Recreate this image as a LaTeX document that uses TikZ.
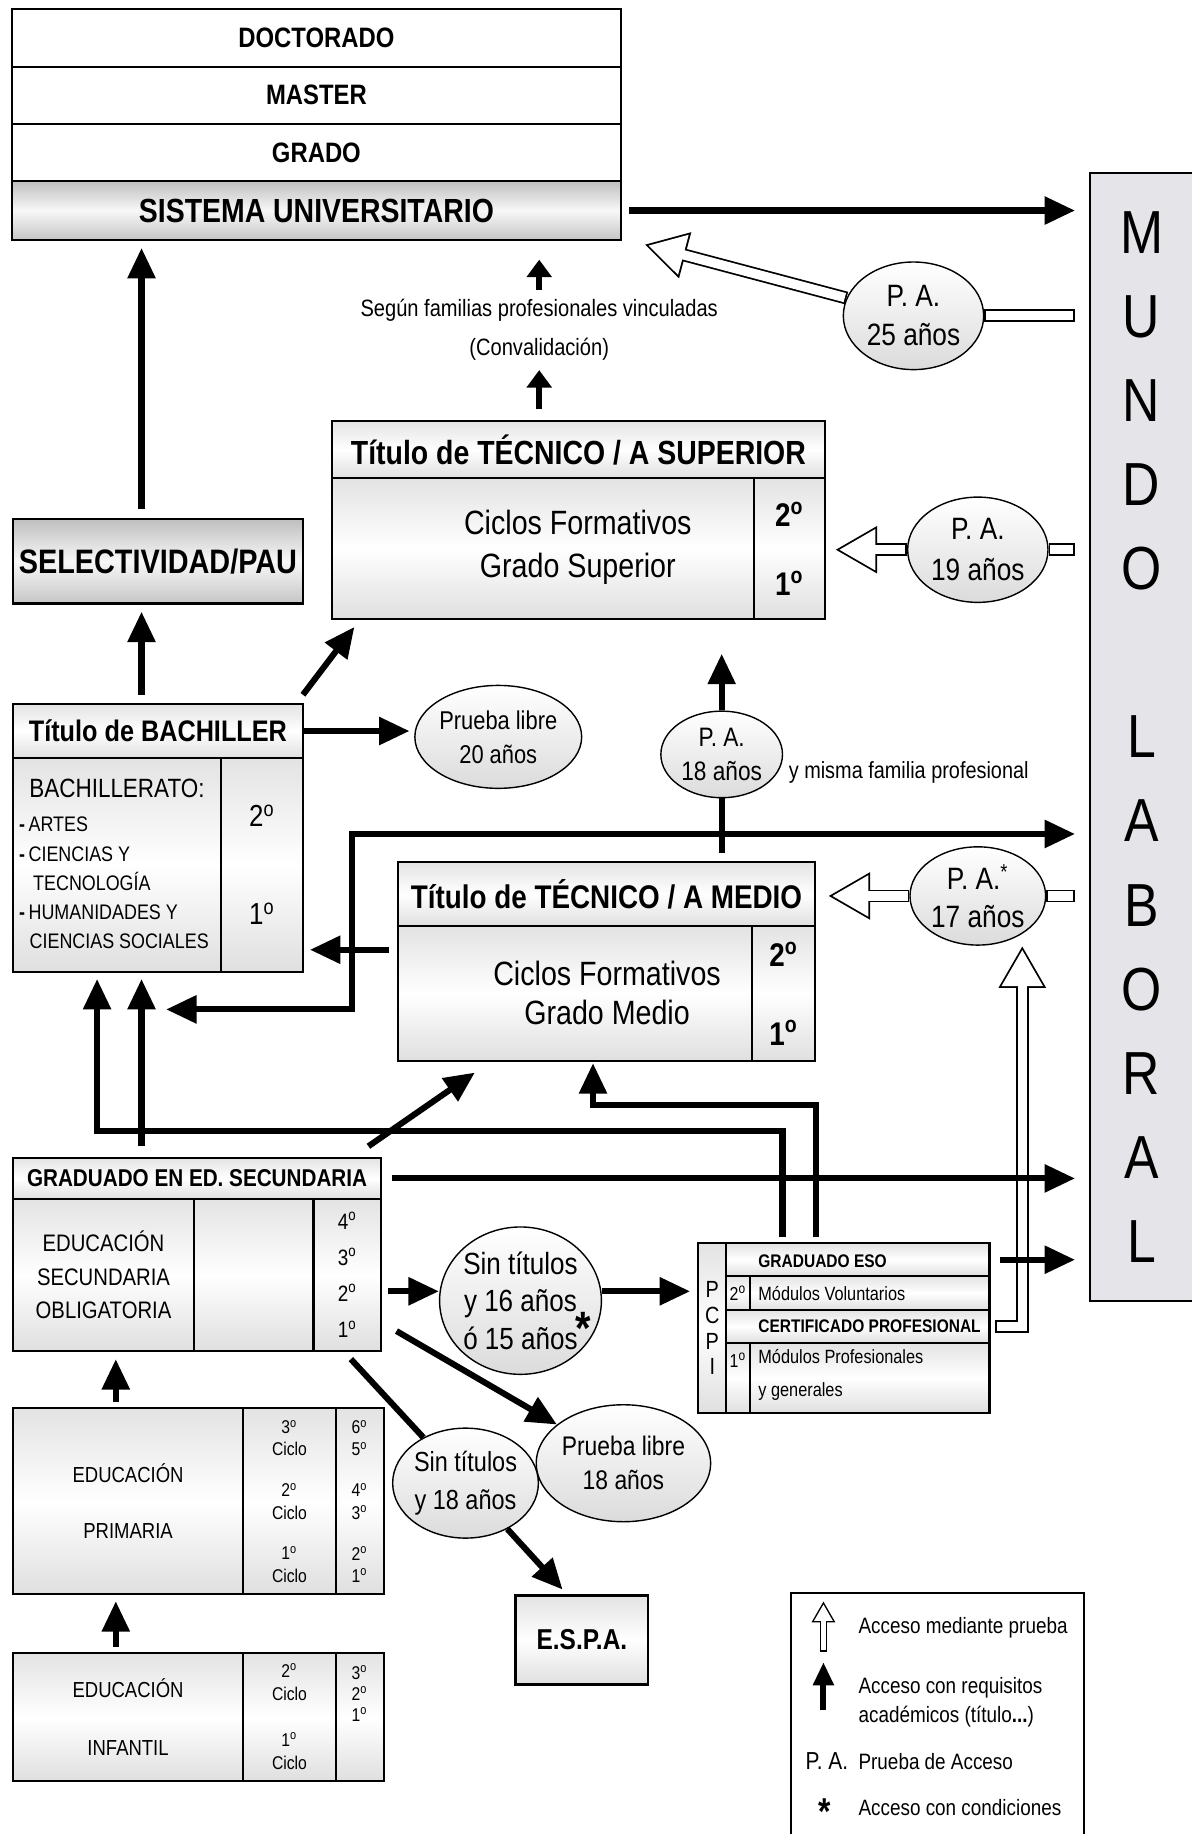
\documentclass[tikz,border=0pt]{standalone}
\usepackage{fontspec}
\setmainfont{Liberation Sans}[FakeStretch=0.85]
\usetikzlibrary{arrows.meta,shapes.geometric,positioning}
\definecolor{worldgray}{RGB}{228,228,233}
\newcommand{\sz}[2]{\fontsize{#1}{#2}\selectfont}
\newcommand{\ordo}{\textsuperscript{o}}

\begin{document}
\begin{tikzpicture}[x=0.5pt, y=-0.5pt]
    % Define styles
    \tikzstyle{plain} = [rectangle, draw=black, line width=0.9pt, fill=white, inner sep=0pt, outer sep=0pt]
    \tikzstyle{level} = [plain, minimum width=260.5pt, minimum height=24.5pt, font=\sz{12}{14}\bfseries]
    \tikzstyle{cell} = [rectangle, draw=black, line width=0.9pt, inner sep=0pt, outer sep=0pt, top color=gray!22, bottom color=gray!25, middle color=white]
    \tikzstyle{darkcell} = [cell, top color=gray!50, bottom color=gray!45, middle color=gray!6]
    \tikzstyle{world} = [rectangle, draw=black, line width=0.9pt, fill=worldgray, inner sep=0pt, align=center]
    \tikzstyle{bubble} = [ellipse, draw=black, line width=0.6pt, inner sep=0pt, top color=white, bottom color=gray!28, align=center]
    \tikzstyle{arrow} = [line width=2.6pt, -{Triangle[length=13pt,width=11.5pt]}]
    \tikzstyle{smallarrow} = [line width=2.6pt, -{Triangle[length=7.5pt,width=10.5pt]}]
    \tikzstyle{twoway} = [line width=2.6pt, {Triangle[length=13pt,width=11.5pt]}-{Triangle[length=13pt,width=11.5pt]}]
    \tikzstyle{thickline} = [line width=2.6pt]
    \tikzstyle{hollow} = [line width=5.5pt, -{Triangle[length=18pt,width=19pt]}, postaction={draw=white, line width=4pt, shorten <=0.75pt, shorten >=1.6pt, -{Triangle[length=15.6pt,width=16.5pt]}}]
    \tikzstyle{hollowbar} = [line width=5.5pt, postaction={draw=white, line width=4pt, shorten <=0.75pt, shorten >=0.75pt}]
    \tikzstyle{hollowsmall} = [line width=3.3pt, -{Triangle[length=9pt,width=9.5pt]}, postaction={draw=white, line width=2.1pt, shorten <=0.6pt, shorten >=1.3pt, -{Triangle[length=7.1pt,width=7.5pt]}}]
    \tikzstyle{keyarrow} = [line width=2.6pt, -{Triangle[length=10pt,width=8.5pt]}]

    \useasboundingbox (0,0) rectangle (1019,1568);

    % Guide points
    \coordinate (left_axis) at (121,0);
    \coordinate (mid_axis) at (99,0);
    \coordinate (medio_bend) at (301,863);
    \coordinate (medio_top) at (301,713);
    \coordinate (medio_back) at (0,812);
    \coordinate (bach_corner) at (83,967);
    \coordinate (pcpi_up_a) at (669,967);
    \coordinate (tmed_corner) at (507,945);
    \coordinate (pcpi_up_b) at (698,945);
    \coordinate (sin_row) at (0,1104);
    \coordinate (pcpi_turn) at (874,1134);

    % University
    \node (doctorado) [level] at (270.5,32.5) {DOCTORADO};
    \node (master) [level, below=0pt of doctorado] {MASTER};
    \node (grado) [level, below=0pt of master] {GRADO};
    \node (sistema) [darkcell, minimum width=260.5pt, minimum height=25pt, font=\sz{14.3}{16}\bfseries, below=0pt of grado] {SISTEMA UNIVERSITARIO};

    % Working world
    \node (mundo) [world, minimum width=44pt, minimum height=482pt, font=\sz{26}{35.95}] at (976,630) {M\\U\\N\\D\\O\\~\\L\\A\\B\\O\\R\\A\\L};

    % Access tests
    \node (pa25) [bubble, minimum width=60pt, minimum height=46pt, font=\sz{13.2}{16.5}] at (781,270) {P. A.\\25 años};
    \node (pa19) [bubble, minimum width=60pt, minimum height=45pt, font=\sz{13.2}{17.5}] at (836,470) {P. A.\\19 años};
    \node (segun) [align=center, inner sep=0pt, minimum height=34pt, font=\sz{10.1}{16.5}] at (461,282) {Según familias profesionales vinculadas\\(Convalidación)};

    % Higher vocational training
    \node (tsup_head) [cell, minimum width=210.5pt, minimum height=24.5pt, font=\sz{14.3}{16}\bfseries] at (494.5,384.5) {Título de TÉCNICO / A SUPERIOR};
    \node (tsup_body) [cell, minimum width=180.5pt, minimum height=60pt] at (464.5,469) {};
    \node (tsup_year) [cell, minimum width=30pt, minimum height=60pt, font=\sz{14}{29.5}\bfseries, align=center] at (675,469) {2\ordo\\1\ordo};
    \node (tsup_text) [align=center, font=\sz{14.4}{18.5}] at (494,468) {Ciclos Formativos\\Grado Superior};

    % Bachillerato
    \node (selectividad) [darkcell, minimum width=124pt, minimum height=36pt, font=\sz{14.5}{17}\bfseries] at (135,480) {SELECTIVIDAD/PAU};
    \node (bach_head) [cell, minimum width=124pt, minimum height=23pt, font=\sz{12.7}{15}\bfseries] at (135,625) {Título de BACHILLER};
    \node (bach_body) [cell, minimum width=89pt, minimum height=91.5pt] at (100,739.5) {};
    \node (bach_year) [cell, minimum width=35pt, minimum height=91.5pt, font=\sz{13}{42}, align=center] at (224,739.5) {2\ordo\\1\ordo};
    \node (bach_title) [font=\sz{11.3}{13}] at (100,674) {BACHILLERATO:};
    \node (bach_list) [anchor=west, align=left, inner sep=0pt, font=\sz{9}{12.5}] at (16,755) {\textbf{-}\,ARTES\\\textbf{-}\,CIENCIAS Y\\\hspace*{6pt}TECNOLOGÍA\\\textbf{-}\,HUMANIDADES Y\\\hspace*{4.5pt}CIENCIAS SOCIALES};
    \node (pl20) [bubble, minimum width=61pt, minimum height=44pt, font=\sz{11}{14.5}] at (426,630) {Prueba libre\\20 años};
    \node (pa18) [bubble, minimum width=52pt, minimum height=37pt, font=\sz{11.4}{14.5}] at (617,645) {P. A.\\18 años};
    \node (misma) [anchor=west, inner sep=0pt, font=\sz{10}{12}] at (674,660) {y misma familia profesional};

    % Middle vocational training
    \node (tmed_head) [cell, minimum width=178.5pt, minimum height=27.5pt, font=\sz{14}{16}\bfseries] at (518.5,764.5) {Título de TÉCNICO / A MEDIO};
    \node (tmed_body) [cell, minimum width=151.5pt, minimum height=57.5pt] at (491.5,849.5) {};
    \node (tmed_year) [cell, minimum width=27pt, minimum height=57.5pt, font=\sz{14}{33.5}\bfseries, align=center] at (670,849.5) {2\ordo\\1\ordo};
    \node (tmed_text) [align=center, font=\sz{14.4}{17}] at (519,849) {Ciclos Formativos\\Grado Medio};
    \node (pa17) [bubble, minimum width=58pt, minimum height=42pt, font=\sz{13.2}{16}] at (836,766) {P. A.\textsuperscript{*}\\17 años};

    % Secondary school
    \node (eso_head) [cell, minimum width=157.5pt, minimum height=17.5pt, font=\sz{10.4}{12}\bfseries] at (168.5,1007.5) {GRADUADO EN ED. SECUNDARIA};
    \node (eso_name) [cell, minimum width=77.5pt, minimum height=65pt, font=\sz{10.2}{14.25}, align=center] at (88.5,1090) {EDUCACIÓN\\SECUNDARIA\\OBLIGATORIA};
    \node (eso_blank) [cell, minimum width=51pt, minimum height=65pt] at (217,1090) {};
    \node (eso_years) [cell, minimum width=29pt, minimum height=65pt, font=\sz{9.5}{15.5}, align=center] at (297,1090) {4\ordo\\3\ordo\\2\ordo\\1\ordo};
    \node (sin16) [bubble, minimum width=66pt, minimum height=63pt, font=\sz{13.1}{16}] at (445,1112) {Sin títulos\\y 16 años\\ó 15 años};
    \node (star16) [inner sep=0pt, font=\sz{20}{20}\bfseries] at (499,1136) {*};

    % PCPI
    \node (pcpi_side) [cell, minimum width=12pt, minimum height=72.5pt, font=\sz{10}{11}, align=center] at (609,1135.5) {P\\C\\P\\I};
    \node (pcpi_grad) [cell, minimum width=112.5pt, minimum height=14pt] at (733.5,1077) {};
    \node (pcpi_y2) [cell, minimum width=10pt, minimum height=14.5pt, font=\sz{8}{9}] at (631,1105.5) {2\ordo};
    \node (pcpi_vol) [cell, minimum width=102.5pt, minimum height=14.5pt] at (743.5,1105.5) {};
    \node (pcpi_cert) [cell, minimum width=112.5pt, minimum height=14pt] at (733.5,1134) {};
    \node (pcpi_y1) [cell, minimum width=10pt, minimum height=30pt] at (631,1178) {};
    \node (pcpi_mod) [cell, minimum width=102.5pt, minimum height=30pt] at (743.5,1178) {};
    \node (grad_text) [anchor=west, inner sep=0pt, font=\sz{7.8}{9}\bfseries] at (648,1078) {GRADUADO ESO};
    \node (vol_text) [anchor=west, inner sep=0pt, font=\sz{8.2}{10}] at (648,1106) {Módulos Voluntarios};
    \node (cert_text) [anchor=west, inner sep=0pt, font=\sz{7.8}{9}\bfseries] at (648,1134) {CERTIFICADO PROFESIONAL};
    \node (mod_text) [anchor=west, align=left, inner sep=0pt, font=\sz{8.2}{14.5}] at (648,1175.5) {Módulos Profesionales\\y generales};
    \node (y1_text) [inner sep=0pt, font=\sz{8}{9}] at (631,1163) {1\ordo};

    % Without title
    \node (pl18) [bubble, minimum width=60pt, minimum height=50pt, font=\sz{11.5}{14.5}] at (533,1251) {Prueba libre\\18 años};
    \node (sin18) [bubble, minimum width=60pt, minimum height=47pt, font=\sz{11.8}{16}] at (398,1268) {Sin títulos\\y 18 años};
    \node (espa) [cell, line width=1.2pt, minimum width=56.5pt, minimum height=38pt, font=\sz{12.3}{14}\bfseries] at (497.5,1402) {E.S.P.A.};

    % Primary and infant school
    \node (prim_name) [cell, minimum width=98.5pt, minimum height=79.5pt, font=\sz{9.3}{24}, align=center] at (109.5,1283.5) {EDUCACIÓN\\PRIMARIA};
    \node (prim_cycle) [cell, minimum width=39.5pt, minimum height=79.5pt, font=\sz{7.9}{9.5}, align=center] at (247.5,1283.5) {3\ordo\\Ciclo\\[8pt]2\ordo\\Ciclo\\[8pt]1\ordo\\Ciclo};
    \node (prim_grade) [cell, minimum width=20.5pt, minimum height=79.5pt, font=\sz{7.9}{9.5}, align=center] at (307.5,1283.5) {6\ordo\\5\ordo\\[8pt]4\ordo\\3\ordo\\[8pt]2\ordo\\1\ordo};
    \node (inf_name) [cell, minimum width=98.5pt, minimum height=55pt, font=\sz{9.3}{24.5}, align=center] at (109.5,1468) {EDUCACIÓN\\INFANTIL};
    \node (inf_cycle) [cell, minimum width=39.5pt, minimum height=55pt, font=\sz{7.9}{10}, align=center] at (247.5,1468) {2\ordo\\Ciclo\\[9.5pt]1\ordo\\Ciclo};
    \node (inf_grade) [cell, minimum width=20.5pt, minimum height=55pt] at (307.5,1468) {};
    \node (inf_grade_text) [align=center, font=\sz{7.9}{9}] at (307.5,1448) {3\ordo\\2\ordo\\1\ordo};

    % Legend
    \node (legend) [plain, minimum width=125.5pt, minimum height=115pt] at (801.5,1477) {};
    \coordinate (key_open_from) at (704,1412);
    \coordinate (key_open_to) at (704,1369);
    \coordinate (key_solid_from) at (704,1462);
    \coordinate (key_solid_to) at (704,1421);
    \draw [hollowsmall] (key_open_from) -- (key_open_to);
    \draw [keyarrow] (key_solid_from) -- (key_solid_to);
    \node (key_open) [anchor=west, font=\sz{9.5}{12}] at (727,1392) {Acceso mediante prueba};
    \node (key_solid) [anchor=west, align=left, font=\sz{9.5}{12.5}] at (727,1455.5) {Acceso con requisitos\\académicos (título\textbf{...})};
    \node (key_pa) [font=\sz{10.5}{12}] at (707,1506) {P. A.};
    \node (key_pa_text) [anchor=west, font=\sz{9.5}{12}] at (727,1506) {Prueba de Acceso};
    \node (key_star) [inner sep=0pt, font=\sz{16}{16}\bfseries] at (705,1549) {*};
    \node (key_star_text) [anchor=west, font=\sz{9.5}{12}] at (727,1545) {Acceso con condiciones};

    % Arrows
    \draw [arrow, shorten <=3.5pt, shorten >=6pt] (sistema.east) -- (sistema.east -| mundo.west);
    \draw [arrow, shorten <=4.5pt, shorten >=3.5pt] (selectividad.north -| left_axis) -- (left_axis |- sistema.south);
    \draw [smallarrow, shorten >=8.5pt] (segun.north) -- (segun.north |- sistema.south);
    \draw [smallarrow, shorten <=5pt] (tsup_head.north -| segun) -- (segun.south);
    \draw [hollow] (pa25) -- ([xshift=10pt,yshift=-2pt]sistema.south east);
    \draw [hollowbar] (pa25.east) -- ([xshift=-6pt]pa25.east -| mundo.west);
    \draw [hollow] (pa19.west) -- ([xshift=4.5pt]pa19.west -| tsup_year.east);
    \draw [hollowbar] (pa19.east) -- ([xshift=-6pt]pa19.east -| mundo.west);
    \draw [arrow, shorten <=4pt, shorten >=3.5pt] (bach_head.north -| left_axis) -- (left_axis |- selectividad.south);
    \draw [arrow] ([yshift=4pt]bach_head.north east) -- ([xshift=9.5pt,yshift=-3.5pt]tsup_body.south west);
    \draw [arrow, shorten >=2pt] (bach_head.east) -- (bach_head.east -| pl20.west);
    \draw [arrow, shorten >=15pt] (pa18.north) -- (pa18.north |- tsup_body.south);
    \draw [thickline, shorten <=4pt] (tmed_head.north -| pa18) -- (pa18.south);
    \draw [twoway, shorten <=10.5pt, shorten >=6pt] (left_axis |- medio_bend) -- (medio_bend) -- (medio_top) -- (medio_top -| mundo.west);
    \draw [arrow, shorten <=3.5pt, shorten >=3pt] (tmed_body.west |- medio_back) -- (bach_year.east |- medio_back);
    \draw [hollow] (pa17.west) -- ([xshift=5.5pt]pa17.west -| tmed_head.east);
    \draw [hollowbar] (pa17.east) -- ([xshift=-6pt]pa17.east -| mundo.west);
    \draw [hollow] ([xshift=2.5pt]pcpi_cert.east) -- (pcpi_turn) -- (pcpi_turn |- pa17.south);
    \draw [arrow, shorten <=5pt, shorten >=3pt] (eso_head.north -| left_axis) -- (left_axis |- bach_body.south);
    \draw [arrow, shorten <=2.5pt, shorten >=3pt] (pcpi_grad.north -| pcpi_up_a) -- (pcpi_up_a) -- (bach_corner) -- (bach_corner |- bach_body.south);
    \draw [arrow, shorten <=2.5pt, shorten >=1pt] (pcpi_grad.north -| pcpi_up_b) -- (pcpi_up_b) -- (tmed_corner) -- (tmed_corner |- tmed_body.south);
    \draw [arrow, shorten <=4.5pt, shorten >=6pt] (eso_head.east) -- (eso_head.east -| mundo.west);
    \draw [arrow] ([xshift=-5.5pt,yshift=5pt]eso_head.north east) -- ([xshift=33pt,yshift=-5pt]tmed_body.south west);
    \draw [arrow, shorten <=3pt] (eso_years.east |- sin_row) -- (sin_row -| sin16.west);
    \draw [arrow, shorten >=3.5pt] (sin16.east |- sin_row) -- (sin_row -| pcpi_side.west);
    \draw [arrow, shorten <=4.5pt, shorten >=6pt] (pcpi_grad.east) -- (pcpi_grad.east -| mundo.west);
    \draw [arrow] ([xshift=6.5pt,yshift=8.5pt]eso_years.south east) -- (pl18);
    \draw [thickline] ([xshift=-13pt,yshift=-3.5pt]eso_years.south east) -- (sin18);
    \draw [arrow] (sin18) -- ([xshift=20pt,yshift=2.5pt]espa.north west);
    \draw [arrow, shorten <=2.5pt, shorten >=3.5pt] (prim_name.north -| mid_axis) -- (mid_axis |- eso_name.south);
    \draw [arrow, shorten <=2.5pt, shorten >=3pt] (inf_name.north -| mid_axis) -- (mid_axis |- prim_name.south);
\end{tikzpicture}
\end{document}
